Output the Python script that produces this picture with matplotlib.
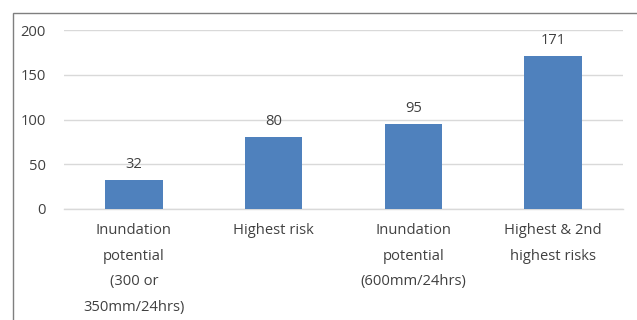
import matplotlib
matplotlib.use("Agg")
import matplotlib.pyplot as plt
from matplotlib.patches import Rectangle

categories = ["Inundation\npotential\n(300 or\n350mm/24hrs)", "Highest risk",
              "Inundation\npotential\n(600mm/24hrs)", "Highest & 2nd\nhighest risks"]
values = [32, 80, 95, 171]
yticks = [0, 50, 100, 150, 200]

plt.rcParams['font.family'] = ['Open Sans', 'DejaVu Sans']
W, H = 637, 320
fig = plt.figure(figsize=(W/100, H/100), dpi=100)
fig.patch.set_facecolor('white')

# outer frame
fig.add_artist(Rectangle((13/W, -0.1), 1.2, 1 - 13/H + 0.1, transform=fig.transFigure,
                         fill=False, edgecolor='#7f7f7f', linewidth=1.0))

ax = fig.add_axes([64/W, 1 - 209/H, (623-64)/W, (209-30)/H])
x = range(len(categories))
bars = ax.bar(x, values, width=0.41, color='#4F81BD', zorder=3)
ax.set_xlim(-0.5, len(categories) - 0.5)
ax.set_ylim(0, 200)
ax.set_yticks(yticks)
ax.set_yticklabels([str(t) for t in yticks], fontsize=10.6, color='#404040')
ax.set_xticks(list(x))
ax.set_xticklabels(categories, fontsize=10.6, color='#404040', linespacing=1.98, va='top')
ax.tick_params(axis='both', length=0)
ax.tick_params(axis='y', pad=13)
ax.tick_params(axis='x', pad=10)
ax.grid(axis='y', color='#d9d9d9', linewidth=1.0, zorder=0)
for s in ['top', 'right', 'left']:
    ax.spines[s].set_visible(False)
ax.spines['bottom'].set_color('#d9d9d9')
ax.spines['bottom'].set_linewidth(1.0)

for i, v in enumerate(values):
    ax.annotate(str(v), (i, v), xytext=(0, 6), textcoords='offset points',
                ha='center', va='bottom', fontsize=10.6, color='#404040')

fig.savefig('out.png', dpi=100, facecolor='white')
